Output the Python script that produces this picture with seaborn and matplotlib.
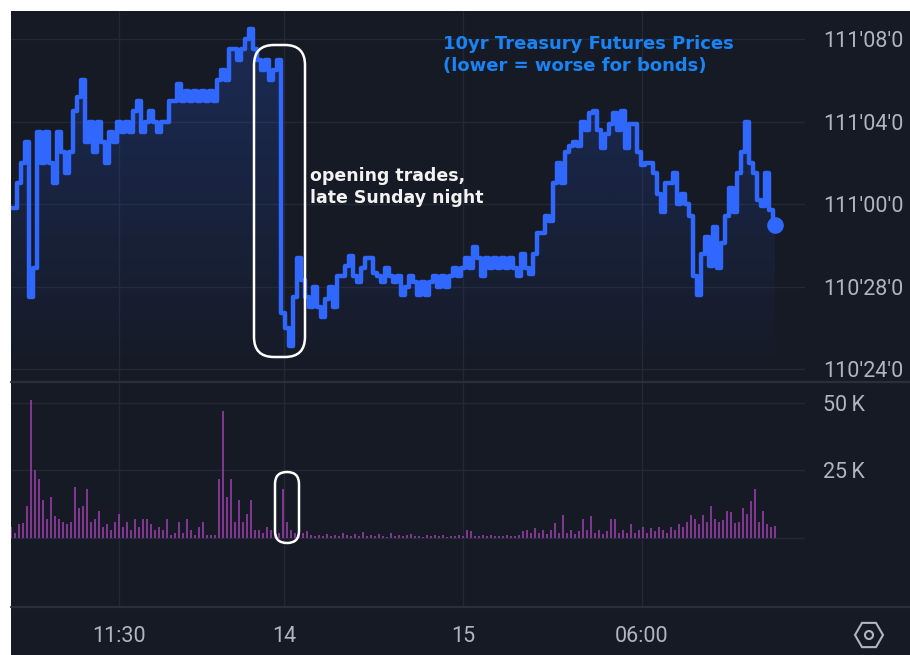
import numpy as np
import pandas as pd
import matplotlib
matplotlib.use("Agg")
import matplotlib.pyplot as plt
import seaborn as sns
from matplotlib.patches import FancyBboxPatch, RegularPolygon, Circle, Rectangle
from matplotlib.lines import Line2D
from matplotlib.ticker import FuncFormatter

# price in 32nds above 110 (40 = 111'08, 24 = 110'24)
price = [
    31.8, 31.8, 33.0, 34.0, 35.0, 27.5, 28.9, 35.5, 34.0, 35.5,
    34.0, 33.0, 35.5, 34.5, 33.5, 34.5, 36.5, 37.2, 38.0, 35.0,
    36.0, 34.5, 36.0, 35.0, 34.0, 35.5, 35.0, 36.0, 35.5, 36.0,
    35.5, 36.5, 37.0, 35.5, 36.0, 36.5, 36.0, 35.5, 36.0, 36.0,
    37.0, 37.0, 37.8, 37.0, 37.5, 37.0, 37.5, 37.0, 37.5, 37.0,
    37.5, 37.0, 38.0, 38.5, 38.0, 39.5, 39.5, 39.0, 39.5, 40.0,
    40.5, 39.5, 39.0, 38.5, 39.0, 38.0, 38.5, 39.0, 26.7, 26.0,
    25.1, 27.5, 29.4, 28.3, 27.5, 27.0, 28.0, 27.0, 26.5, 27.4,
    28.0, 27.0, 28.5, 28.5, 29.0, 29.5, 28.5, 28.2, 28.9, 29.4,
    29.4, 28.65, 28.5, 28.2, 28.9, 28.5, 28.2, 28.5, 27.6, 28.0,
    28.5, 28.2, 27.6, 28.2, 27.6, 28.2, 28.5, 28.0, 28.5, 28.0,
    28.5, 28.9, 28.5, 28.9, 29.4, 28.9, 29.9, 29.4, 28.5, 29.4,
    28.9, 29.4, 28.9, 29.4, 28.9, 29.4, 28.9, 28.5, 29.6, 28.9,
    28.6, 29.6, 30.6, 30.6, 31.4, 31.2, 33.0, 34.0, 33.0, 34.5,
    34.8, 35.0, 34.8, 36.0, 35.6, 36.4, 36.5, 35.6, 34.7, 35.4,
    35.9, 36.4, 35.6, 36.5, 34.7, 35.9, 35.9, 34.5, 33.9, 34.0,
    34.0, 33.5, 32.5, 31.6, 33.0, 33.0, 33.5, 32.0, 32.5, 32.0,
    31.4, 28.5, 27.6, 29.6, 30.4, 29.0, 30.9, 28.9, 30.1, 31.4,
    32.8, 31.6, 33.5, 34.5, 36.0, 34.0, 33.5, 32.2, 31.9, 33.5,
    31.7, 31.0,
]

# volume in thousands of contracts
volume_k = [
    4, 2, 5, 5.5, 12, 51, 25, 22, 14, 7,
    15, 8, 7, 6, 5, 6, 19, 11, 12, 18,
    6, 7, 10, 4, 5, 3, 6, 9, 4, 6,
    3, 7, 4, 7, 7, 5, 3, 4, 3, 7,
    1, 2, 6, 2, 7, 3, 1, 4, 6, 1,
    1, 1, 22, 47, 15, 22, 6, 14, 6, 9,
    14, 3, 3, 2, 4, 3, 2, 2, 18, 6,
    3, 2, 3, 2, 2.5, 1, 0.8, 1.2, 0.6, 1.5,
    0.8, 1.0, 0.7, 2.0, 0.9, 0.6, 1.3, 0.8, 2.2, 0.7,
    1.0, 0.6, 1.4, 0.8, 0.5, 1.8, 0.7, 1.0, 0.6, 0.9,
    1.5, 0.6, 0.8, 0.5, 1.2, 0.7, 0.9, 0.6, 1.1, 0.5,
    0.8, 0.6, 1.0, 0.7, 3.0, 2.5, 0.8, 0.6, 1.0, 0.7,
    0.9, 0.6, 0.8, 0.7, 1.2, 0.8, 0.6, 1.0, 2.5, 3.0,
    2, 3.5, 2, 3, 1.5, 3, 5.5, 2, 8.5, 2,
    3, 1.5, 2.5, 7, 3, 8, 2, 3, 1.5, 2.5,
    7, 7, 2, 3, 2, 5, 2, 3, 4, 2,
    3.5, 2.5, 4, 3, 2, 4, 3, 5, 4, 6,
    8.5, 7, 5, 8.5, 6, 12, 7, 6, 6.5, 10,
    9.5, 5.5, 6, 11, 9, 13.5, 18, 6, 10, 5,
    4, 4.5,
]

time_ticks = [27.1, 68.25, 113.1, 157.7]
time_labels = ["11:30", "14", "15", "06:00"]
price_ticks = [24, 28, 32, 36, 40]
vol_ticks = [0, 25, 50]
vol_labels = ["", "25\u2009K", "50\u2009K"]

BG = "#161a25"
GRID = "#242834"
SEP = "#2b2f3a"
TXT = "#b2b5be"
LINE = "#2f67ff"
VOL = "#9c3fae"

sns.set_theme(style="dark")
plt.rcParams["font.family"] = ["DejaVu Sans"]

W, H = 910, 655
fig = plt.figure(figsize=(W / 100, H / 100), dpi=100, facecolor="white")


def fx(x):
    return x / W


def fy(y):
    return 1 - y / H


fig.add_artist(Rectangle((fx(11), 0), 1 - fx(11), fy(11), transform=fig.transFigure,
                         facecolor=BG, edgecolor="none", zorder=-10))

ax = fig.add_axes([fx(11), fy(381), fx(805) - fx(11), fy(11) - fy(381)])
axv = fig.add_axes([fx(11), fy(607), fx(805) - fx(11), fy(383) - fy(607)])

df = pd.DataFrame({"i": np.arange(len(price)), "price": price, "vol": volume_k})

ylo, yhi = 23.42, 41.36
xlo, xhi = 0, 198.5

# price line (step-like, as on the trading screen) with gradient fill underneath
sns.lineplot(data=df, x="i", y="price", ax=ax, color=LINE, linewidth=3.2, zorder=3,
             drawstyle="steps-mid")
ax.plot(df.i.iloc[-1], df.price.iloc[-1], "o", color=LINE, ms=11, zorder=4)
poly = ax.fill_between(df.i, df.price, ylo, color="none", step="mid")
rgb = matplotlib.colors.to_rgb(LINE)
grad = np.zeros((256, 1, 4))
grad[:, 0, :3] = rgb
grad[:, 0, 3] = np.linspace(0.24, 0.0, 256)
im = ax.imshow(grad, extent=[0, df.i.iloc[-1], ylo, yhi], aspect="auto",
               origin="upper", zorder=1)
im.set_clip_path(poly.get_paths()[0], transform=ax.transData)
ax.set_xlim(xlo, xhi)
ax.set_ylim(ylo, yhi)

# volume bars
sns.barplot(data=df, x="i", y="vol", ax=axv, native_scale=True, color=VOL,
            saturation=1, width=0.6, linewidth=0, alpha=0.8, errorbar=None)
axv.set_xlim(xlo, xhi)
axv.set_ylim(-25.6, 57.4)


def fmt32(v, pos):
    whole = 110 + int(v) // 32
    frac = int(v) % 32
    return f"{whole}'{frac:02d}'0"


for a in (ax, axv):
    a.set_facecolor(BG)
    for s in a.spines.values():
        s.set_visible(False)
    a.set_xlabel("")
    a.set_ylabel("")
    a.set_xticks(time_ticks)
    a.grid(True, color=GRID, linewidth=1)
    a.set_axisbelow(True)
    a.yaxis.tick_right()
    a.tick_params(axis="y", length=0, pad=13, labelsize=15.5, labelcolor=TXT)

ax.set_yticks(price_ticks)
ax.yaxis.set_major_formatter(FuncFormatter(fmt32))
ax.tick_params(axis="x", length=0, labelbottom=False)
for lab in ax.get_yticklabels():
    lab.set_fontfamily("Roboto")

axv.set_yticks(vol_ticks)
axv.set_yticklabels(vol_labels, fontfamily="Roboto")
axv.set_xticklabels(time_labels, fontfamily="Roboto")
axv.tick_params(axis="x", length=0, pad=14, labelsize=15.5, labelcolor=TXT)

# pane separators
for yy in (382, 607):
    fig.add_artist(Line2D([fx(11), 1], [fy(yy), fy(yy)], transform=fig.transFigure,
                          color=SEP, linewidth=1.6))

# annotations
fig.text(fx(443), fy(35), "10yr Treasury Futures Prices\n(lower = worse for bonds)",
         color="#1a84f6", fontsize=13, fontweight="bold", va="top", ha="left",
         linespacing=1.3)
fig.text(fx(310), fy(167), "opening trades,\nlate Sunday night", color="#f2f2f2",
         fontsize=12.5, fontweight="bold", va="top", ha="left", linespacing=1.3)

fig.add_artist(FancyBboxPatch((2.54, (H - 357) / 100), 0.51, 3.12,
                              boxstyle="round,pad=0,rounding_size=0.2",
                              transform=fig.dpi_scale_trans, fill=False,
                              edgecolor="white", linewidth=1.8, zorder=10))
fig.add_artist(FancyBboxPatch((2.75, (H - 543) / 100), 0.24, 0.71,
                              boxstyle="round,pad=0,rounding_size=0.12",
                              transform=fig.dpi_scale_trans, fill=False,
                              edgecolor="white", linewidth=1.8, zorder=10))

# settings icon
fig.add_artist(RegularPolygon((8.69, (H - 635) / 100), 6, radius=0.14,
                              orientation=np.pi / 6, transform=fig.dpi_scale_trans,
                              fill=False, edgecolor=TXT, linewidth=1.5))
fig.add_artist(Circle((8.69, (H - 635) / 100), 0.04, transform=fig.dpi_scale_trans,
                      fill=False, edgecolor=TXT, linewidth=1.5))

fig.savefig("out.png", dpi=100, facecolor="white")
